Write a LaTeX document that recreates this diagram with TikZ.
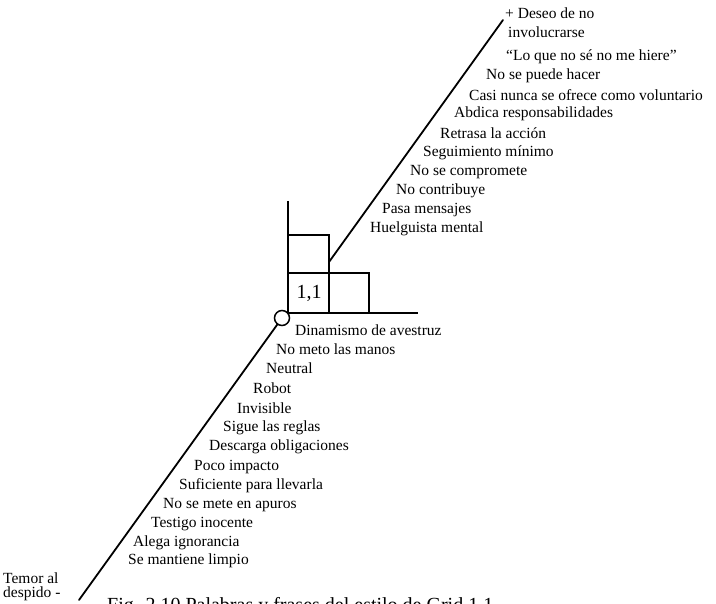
\documentclass[tikz,border=0pt]{standalone}
\usepackage{fontspec}
\setmainfont{Liberation Serif}
\begin{document}
\begin{tikzpicture}[x=1pt,y=-1pt,
  ln/.style={line width=1.8pt, line cap=round},
  gridline/.style={line width=1.6pt},
  phrase/.style={anchor=west, inner sep=0pt, font=\fontsize{15.5}{18}\selectfont},
  caption/.style={anchor=base west, inner sep=0pt, font=\fontsize{20}{24}\selectfont}]
\useasboundingbox (0,0) rectangle (716,604);
\clip (0,0) rectangle (716,604);
\fill[white] (0,0) rectangle (716,604);

% --- grid corner with the 1,1 cell ---
\coordinate (gtop) at (288,201);
\coordinate (g0) at (288,313);
\coordinate (gend) at (418,313);
\draw[gridline] (gtop) -- (g0) -- (gend);
\draw[gridline] (288,235) -- (329,235) -- (329,313);
\draw[gridline] (288,273) -- (369,273) -- (369,313);
\node[inner sep=0pt, font=\fontsize{20}{22}\selectfont] (cell) at (309,293) {1,1};
\node[circle, draw, line width=1.5pt, minimum size=15pt, inner sep=0pt, fill=white] (origin) at (282,318) {};

% --- the two diagonal scales ---
\coordinate (upstart) at (329,262);
\coordinate (upend) at (503,20);
\coordinate (lowend) at (79,600);
\draw[ln] (upstart) -- (upend);
\draw[ln] (origin) -- (lowend);

% --- upper phrases ---
\node[phrase] (u1)  at (505,13)  {+ Deseo de no};
\node[phrase] (u2)  at (508,32)  {involucrarse};
\node[phrase] (u3)  at (506,57)  {“Lo que no sé no me hiere”};
\node[phrase] (u4)  at (486,76)  {No se puede hacer};
\node[phrase] (u5)  at (469,95)  {Casi nunca se ofrece como voluntario};
\node[phrase] (u6)  at (454,114) {Abdica responsabilidades};
\node[phrase] (u7)  at (440,133) {Retrasa la acción};
\node[phrase] (u8)  at (423,153) {Seguimiento mínimo};
\node[phrase] (u9)  at (410,172) {No se compromete};
\node[phrase] (u10) at (396,191) {No contribuye};
\node[phrase] (u11) at (382,210) {Pasa mensajes};
\node[phrase] (u12) at (370,229) {Huelguista mental};

% --- lower phrases ---
\node[phrase] (l1)  at (295,330) {Dinamismo de avestruz};
\node[phrase] (l2)  at (276,349) {No meto las manos};
\node[phrase] (l3)  at (266,368) {Neutral};
\node[phrase] (l4)  at (253,388) {Robot};
\node[phrase] (l5)  at (237,408) {Invisible};
\node[phrase] (l6)  at (223,428) {Sigue las reglas};
\node[phrase] (l7)  at (209,447) {Descarga obligaciones};
\node[phrase] (l8)  at (194,467) {Poco impacto};
\node[phrase] (l9)  at (179,486) {Suficiente para llevarla};
\node[phrase] (l10) at (163,505) {No se mete en apuros};
\node[phrase] (l11) at (151,524) {Testigo inocente};
\node[phrase] (l12) at (133,543) {Alega ignorancia};
\node[phrase] (l13) at (128,561) {Se mantiene limpio};

% --- end label of the lower scale ---
\node[phrase] (fear1) at (3,578) {Temor al};
\node[phrase] (fear2) at (3,594) {despido -};

% --- figure caption ---
\node[caption] (cap) at (107,611) {Fig. 2.10 Palabras y frases del estilo de Grid 1,1};
\end{tikzpicture}
\end{document}
